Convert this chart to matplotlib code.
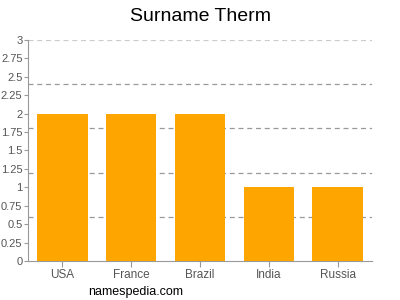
import matplotlib
matplotlib.use("Agg")
from matplotlib import pyplot as plt
import numpy as np

countries = ["USA", "France", "Brazil", "India", "Russia"]
counts = [2, 2, 2, 1, 1]
y_ticks = [0, 0.25, 0.5, 0.75, 1, 1.25, 1.5, 1.75, 2, 2.25, 2.5, 2.75, 3]
y_tick_labels = ["0", "0.25", "0.5", "0.75", "1", "1.25", "1.5", "1.75", "2", "2.25", "2.5", "2.75", "3"]
grid_levels = [0.6, 1.2, 1.8, 2.4, 3.0]

plt.rcParams["font.family"] = ["Liberation Sans", "DejaVu Sans"]

fig = plt.figure(figsize=(4, 3), dpi=100)
ax = fig.add_axes([0.07, 0.13, 0.86, 0.7367])

x = np.arange(len(countries))
ax.bar(x, counts, width=0.73, color="#ffa500", zorder=3)

for lvl in grid_levels:
    col = "#cccccc" if lvl == 3.0 else "#999999"
    ax.axhline(lvl, color=col, linestyle=(0, (4, 3)), linewidth=0.9, zorder=1)

ax.set_xlim(-0.5, len(countries) - 0.5)
ax.set_ylim(0, 3)
ax.set_xticks(x)
ax.set_xticklabels(countries)
ax.set_yticks(y_ticks)
ax.set_yticklabels(y_tick_labels)

for side in ["top", "right"]:
    ax.spines[side].set_visible(False)
for side in ["left", "bottom"]:
    ax.spines[side].set_color("#999999")
    ax.spines[side].set_linewidth(0.8)

ax.tick_params(axis="both", colors="#999999", width=0.8, labelsize=8, labelcolor="#555555")
ax.tick_params(axis="x", length=4, pad=2, labelsize=8.5)
ax.tick_params(axis="y", length=3, pad=1)

fig.text(0.5, 0.945, "Surname Therm", ha="center", va="center", fontsize=14, color="#000000")
fig.text(0.22, 0.028, "namespedia.com", ha="left", va="center", fontsize=9, color="#000000")

plt.savefig("out.png", dpi=100)
